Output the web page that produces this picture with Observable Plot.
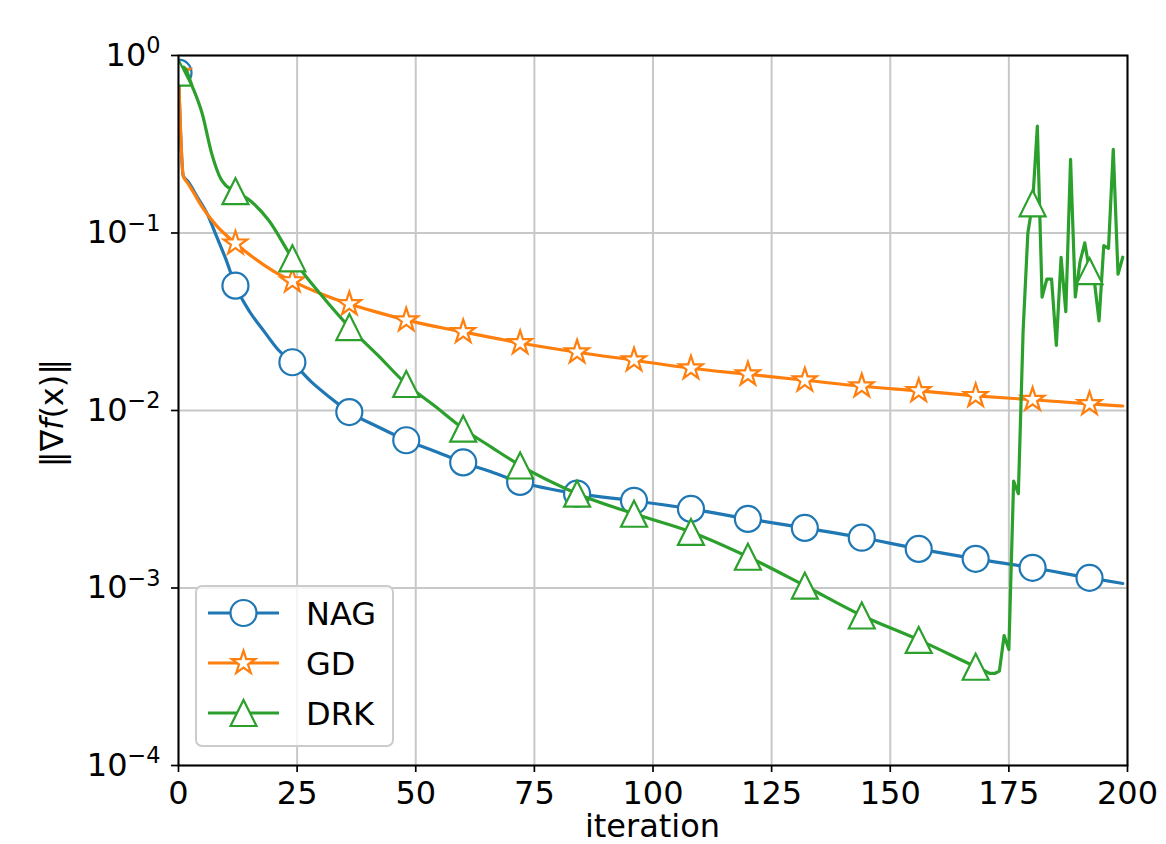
<!DOCTYPE html>
<html>
<head>
<meta charset="utf-8">
<script src="https://cdn.jsdelivr.net/npm/d3@7"></script>
<script src="https://cdn.jsdelivr.net/npm/@observablehq/plot@0.6"></script>
<style>
  body { margin: 0; background: #fff; }
  #chart svg { display: block; }
</style>
</head>
<body>
<div id="chart"></div>
<script>
// ---------------- data ----------------
const xTicks = [0, 25, 50, 75, 100, 125, 150, 175, 200];
const yTicks = [1e-4, 1e-3, 1e-2, 1e-1, 1];

const nagIter = [0,1,2,4,6,8,10,12,15,18,21,24,28,32,36,42,48,54,60,66,72,84,96,108,120,132,144,156,168,180,192,199];
const nagVal  = [0.80,0.21,0.195,0.159,0.129,0.096,0.071,0.0505,0.036,0.028,0.022,0.0187,0.0145,0.0118,0.0098,0.0081,0.0068,0.0059,0.0051,0.0045,0.00396,0.0034,0.0031,0.00279,0.00245,0.00218,0.00192,0.00166,0.00146,0.0013,0.00114,0.00106];

const gdIter = [0,1,2,3,5,8,12,16,20,24,30,36,42,48,60,72,84,96,108,120,132,144,156,168,180,192,199];
const gdVal  = [0.80,0.21,0.19,0.172,0.14,0.11,0.0875,0.072,0.061,0.0536,0.0455,0.0398,0.0357,0.0323,0.0277,0.024,0.0213,0.0192,0.0173,0.016,0.0148,0.0137,0.0129,0.0121,0.0115,0.0109,0.0106];

const drkIter = [0,1,3,5,7,9,10,12,15,19,24,30,36,42,48,54,60,66,72,84,96,108,120,132,144,156,168,170,171,172,173,174,175,176,177,178,179,180,181,182,183,184,185,186,187,188,189,190,191,192,193,194,195,196,197,198,199];
const drkVal  = [0.80,0.86,0.66,0.47,0.28,0.2,0.185,0.172,0.153,0.118,0.072,0.045,0.0295,0.0205,0.0141,0.0106,0.0079,0.0062,0.0049,0.0034,0.00262,0.00207,0.0015,0.00103,0.0007,0.00051,0.00036,0.00034,0.00033,0.00033,0.00034,0.00054,0.00045,0.004,0.0034,0.028,0.10,0.147,0.40,0.0435,0.055,0.055,0.0233,0.073,0.036,0.26,0.0436,0.069,0.088,0.061,0.054,0.032,0.085,0.082,0.296,0.0586,0.073];

const seriesNames = ["NAG", "GD", "DRK"];
const seriesColors = ["#1f77b4", "#ff7f0e", "#2ca02c"];
const markerEvery = 12;
const drkSmoothUntil = 170; // smooth section of DRK before the noisy blow-up

// ---------------- marker shapes (matplotlib-like) ----------------
const circleSym = { draw(ctx, size) { const r = Math.sqrt(size / Math.PI); ctx.moveTo(r, 0); ctx.arc(0, 0, r, 0, 2 * Math.PI); ctx.closePath(); } };
const triSym = { draw(ctx, size) { const r = Math.sqrt(size / Math.PI); ctx.moveTo(0, -r); ctx.lineTo(r, r); ctx.lineTo(-r, r); ctx.closePath(); } };
const starSym = { draw(ctx, size) {
  const R = Math.sqrt(size / Math.PI) * 0.95, ri = R * 0.381966;
  for (let k = 0; k < 10; k++) {
    const rr = k % 2 === 0 ? R : ri;
    const a = -Math.PI / 2 + k * Math.PI / 5;
    const px = rr * Math.cos(a), py = rr * Math.sin(a);
    if (k === 0) ctx.moveTo(px, py); else ctx.lineTo(px, py);
  }
  ctx.closePath();
} };
const symbols = [circleSym, starSym, triSym];

const seriesData = [
  nagIter.map((it, i) => ({ it, v: nagVal[i] })),
  gdIter.map((it, i) => ({ it, v: gdVal[i] })),
  drkIter.map((it, i) => ({ it, v: drkVal[i] }))
];

// ---------------- chart ----------------
const FONT = "DejaVu Sans, sans-serif";
const marks = [
  Plot.gridX(xTicks, { stroke: "#c8c8c8", strokeOpacity: 1, strokeWidth: 2 }),
  Plot.gridY(yTicks, { stroke: "#c8c8c8", strokeOpacity: 1, strokeWidth: 2 })
];
seriesData.forEach((d, k) => {
  const lineOpts = { x: "it", y: "v", stroke: seriesColors[k], strokeWidth: 3.2, clip: true };
  if (k === 2) {
    marks.push(Plot.line(d.filter(p => p.it <= drkSmoothUntil), { ...lineOpts, curve: "monotone-x" }));
    marks.push(Plot.line(d.filter(p => p.it >= drkSmoothUntil), { ...lineOpts, curve: "linear" }));
  } else {
    marks.push(Plot.line(d, { ...lineOpts, curve: "monotone-x" }));
  }
  marks.push(Plot.dot(d.filter(p => p.it % markerEvery === 0), {
    x: "it", y: "v", symbol: symbols[k], r: 13, fill: "white", stroke: seriesColors[k], strokeWidth: 2.2, clip: true
  }));
});
marks.push(Plot.frame({ stroke: "black", strokeWidth: 2 }));
marks.push(Plot.axisX(xTicks, { tickSize: 7, tickPadding: 9, fontSize: 32, strokeWidth: 1.7, label: null, tickFormat: d => String(d) }));
marks.push(Plot.axisY(yTicks, { tickSize: 7, tickPadding: 11, fontSize: 32, strokeWidth: 1.7, label: null, tickFormat: d => String(Math.round(Math.log10(d))) }));

const chart = Plot.plot({
  width: 1166,
  height: 844,
  marginLeft: 178,
  marginRight: 39,
  marginTop: 55,
  marginBottom: 79,
  style: { fontFamily: FONT, fontSize: "32px", color: "black", background: "white" },
  x: { domain: [0, 200] },
  y: { type: "log", domain: [1e-4, 1] },
  marks
});
document.getElementById("chart").append(chart);

// ---------- y tick labels as 10^n with real superscripts ----------
const svg = d3.select(chart);
svg.selectAll('g[aria-label="y-axis tick label"] text').each(function () {
  const t = d3.select(this);
  const e = t.text().trim();
  t.text(null);
  t.append("tspan").text("10");
  t.append("tspan").attr("font-size", "0.7em").attr("dy", "-0.55em")
    .text(e.startsWith("-") ? "\u2212" + e.slice(1) : e);
});

// ---------- axis titles ----------
const L = 178, R = 1127, T = 55, B = 765;
svg.append("text")
  .attr("x", (L + R) / 2).attr("y", 837)
  .attr("text-anchor", "middle").attr("font-family", FONT).attr("font-size", 32)
  .text("iteration");

const yl = svg.append("text")
  .attr("transform", `translate(63,${(T + B) / 2 + 3}) rotate(-90)`)
  .attr("text-anchor", "middle").attr("font-family", FONT).attr("font-size", 32);
yl.append("tspan").text("\u2016\u2207");
yl.append("tspan").attr("font-style", "italic").text("f");
yl.append("tspan").text("(x)\u2016");

// ---------- legend ----------
const lg = svg.append("g").attr("font-family", FONT).attr("font-size", 32).attr("text-anchor", "start");
lg.append("rect").attr("x", 196).attr("y", 586).attr("width", 197).attr("height", 160)
  .attr("rx", 6).attr("fill", "white").attr("fill-opacity", 0.8)
  .attr("stroke", "#cccccc").attr("stroke-width", 2);
seriesNames.forEach((name, k) => {
  const y = 613 + k * 50;
  lg.append("line").attr("x1", 208).attr("x2", 279).attr("y1", y).attr("y2", y)
    .attr("stroke", seriesColors[k]).attr("stroke-width", 3.2);
  lg.append("path").attr("transform", `translate(243.5,${y})`)
    .attr("d", d3.symbol(symbols[k], Math.PI * 13 * 13)())
    .attr("fill", "white").attr("stroke", seriesColors[k]).attr("stroke-width", 2.2);
  lg.append("text").attr("x", 306).attr("y", y).attr("dy", "0.36em").attr("text-anchor", "start").text(name);
});
</script>
</body>
</html>
